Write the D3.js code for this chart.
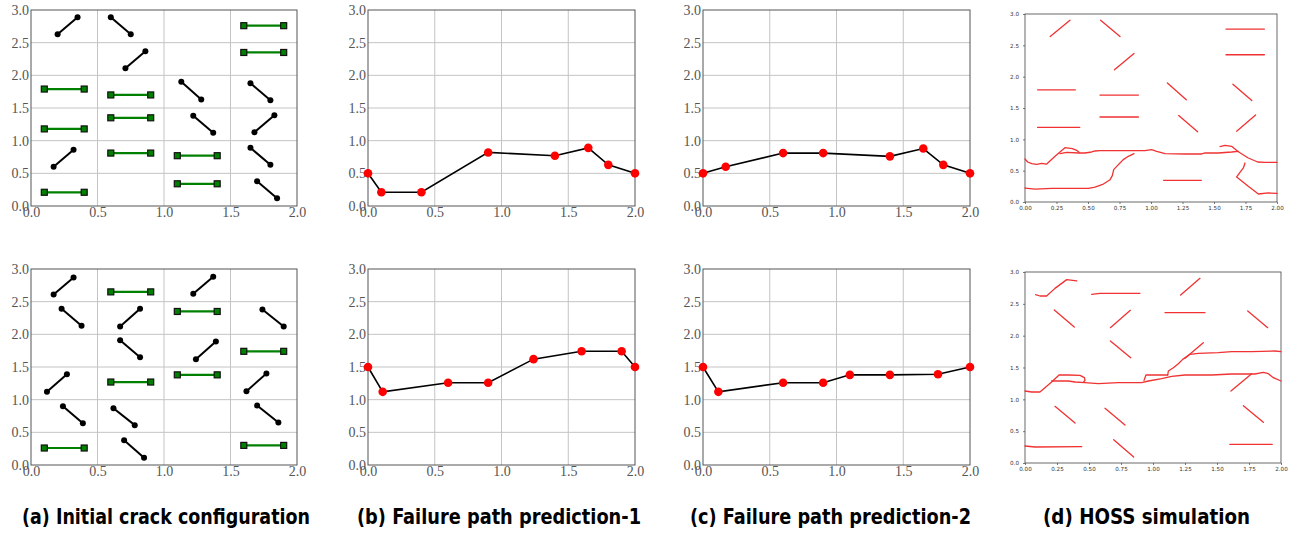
<!DOCTYPE html>
<html><head><meta charset="utf-8">
<script src="https://cdn.jsdelivr.net/npm/d3@7"></script>
<style>body{margin:0;background:#fff}svg{display:block}</style>
</head><body>
<svg id="fig" width="1302" height="534"></svg>
<script>
// ---------- DATA ----------
const axisTicksY = [0, 0.5, 1.0, 1.5, 2.0, 2.5, 3.0];
const axisTicksX = [0, 0.5, 1.0, 1.5, 2.0];
const hossTicksX = [0, 0.25, 0.5, 0.75, 1.0, 1.25, 1.5, 1.75, 2.0];

// (a) initial cracks, case 1 — [x1,y1,x2,y2]
const blackCracks1 = [
  [0.20,2.63,0.35,2.89],[0.60,2.89,0.75,2.63],[0.71,2.11,0.86,2.37],
  [0.17,0.60,0.32,0.86],[1.13,1.90,1.28,1.63],[1.22,1.38,1.37,1.12],
  [1.65,1.88,1.80,1.62],[1.68,1.13,1.83,1.39],[1.65,0.89,1.80,0.63],
  [1.70,0.38,1.85,0.12]
];
const greenCracks1 = [
  [0.1,1.79,0.4,1.79],[0.1,1.18,0.4,1.18],[0.1,0.21,0.4,0.21],
  [0.6,1.70,0.9,1.70],[0.6,1.35,0.9,1.35],[0.6,0.81,0.9,0.81],
  [1.1,0.77,1.4,0.77],[1.1,0.34,1.4,0.34],[1.6,2.76,1.9,2.76],[1.6,2.35,1.9,2.35]
];
// (a) initial cracks, case 2
const blackCracks2 = [
  [0.17,2.61,0.32,2.87],[1.22,2.62,1.37,2.88],[0.23,2.39,0.38,2.13],
  [0.67,2.12,0.82,2.39],[1.74,2.38,1.90,2.12],[0.67,1.91,0.82,1.65],
  [1.24,1.62,1.39,1.89],[0.12,1.12,0.27,1.39],[1.62,1.13,1.77,1.40],
  [0.24,0.90,0.39,0.64],[0.62,0.87,0.78,0.61],[0.70,0.38,0.85,0.11],
  [1.70,0.91,1.86,0.65]
];
const greenCracks2 = [
  [0.6,2.65,0.9,2.65],[1.1,2.35,1.4,2.35],[1.6,1.74,1.9,1.74],
  [0.6,1.27,0.9,1.27],[1.1,1.38,1.4,1.38],[0.1,0.26,0.4,0.26],[1.6,0.30,1.9,0.30]
];

// (b) prediction-1
const pred1TopX = [0, 0.1, 0.4, 0.9, 1.4, 1.65, 1.8, 2.0];
const pred1TopY = [0.5, 0.21, 0.21, 0.82, 0.77, 0.89, 0.63, 0.5];
const pred1BotX = [0, 0.11, 0.6, 0.9, 1.24, 1.6, 1.9, 2.0];
const pred1BotY = [1.5, 1.12, 1.26, 1.26, 1.62, 1.74, 1.74, 1.5];
// (c) prediction-2
const pred2TopX = [0, 0.17, 0.6, 0.9, 1.4, 1.65, 1.8, 2.0];
const pred2TopY = [0.5, 0.6, 0.81, 0.81, 0.76, 0.88, 0.63, 0.5];
const pred2BotX = [0, 0.115, 0.6, 0.9, 1.1, 1.4, 1.76, 2.0];
const pred2BotY = [1.5, 1.12, 1.26, 1.26, 1.38, 1.38, 1.39, 1.5];

// (d) HOSS traced crack/fracture polylines
const hossTopPaths = [
  [[0.20,2.64],[0.357,2.90]],[[0.60,2.90],[0.754,2.64]],[[0.71,2.11],[0.865,2.37]],
  [[0.10,1.79],[0.40,1.79]],[[0.10,1.19],[0.434,1.19]],
  [[0.595,1.707],[0.90,1.707]],[[0.595,1.356],[0.90,1.356]],
  [[1.13,1.90],[1.28,1.63]],[[1.22,1.38],[1.37,1.12]],
  [[1.595,2.76],[1.90,2.76]],[[1.595,2.35],[1.90,2.35]],
  [[1.65,1.88],[1.80,1.62]],[[1.68,1.13],[1.83,1.39]],
  [[1.10,0.346],[1.40,0.346]],
  [[0,0.686],[0.021,0.638],[0.053,0.612],[0.093,0.601],[0.132,0.617],[0.172,0.606],[0.243,0.739],[0.317,0.867],[0.376,0.851],[0.41,0.824],[0.429,0.793]],
  [[0.278,0.771],[0.331,0.793],[0.429,0.782],[0.476,0.782],[0.529,0.798],[0.556,0.814],[0.595,0.819],[0.741,0.819],[0.952,0.819],[1.005,0.835],[1.045,0.809],[1.111,0.771],[1.27,0.766],[1.402,0.766],[1.429,0.782],[1.534,0.782],[1.640,0.798],[1.693,0.809]],
  [[1.548,0.883],[1.587,0.904],[1.640,0.888],[1.693,0.803],[1.772,0.702],[1.847,0.638],[1.905,0.633],[2.0,0.633]],
  [[0,0.223],[0.079,0.207],[0.212,0.218],[0.423,0.218],[0.503,0.218],[0.556,0.239],[0.622,0.287],[0.675,0.356],[0.693,0.420],[0.704,0.516],[0.728,0.569],[0.754,0.622],[0.780,0.676],[0.820,0.729],[0.865,0.771]],
  [[1.746,0.622],[1.733,0.543],[1.706,0.473],[1.680,0.399],[1.772,0.250],[1.852,0.128],[1.931,0.144],[2.0,0.138]]
];
const hossBotPaths = [
  [[1.216,2.639],[1.367,2.90]],[[0.229,2.403],[0.385,2.136]],[[0.667,2.126],[0.823,2.398]],
  [[1.094,2.361],[1.406,2.361]],[[1.74,2.387],[1.896,2.126]],[[0.667,1.916],[0.826,1.654]],
  [[0.234,0.89],[0.391,0.628]],[[0.625,0.859],[0.781,0.597]],[[0.693,0.366],[0.849,0.094]],
  [[1.706,0.90],[1.862,0.639]],[[1.609,1.131],[1.771,1.403]],[[1.60,0.293],[1.932,0.293]],
  [[0,0.267],[0.078,0.251],[0.443,0.257]],
  [[0.083,2.644],[0.117,2.623],[0.169,2.623],[0.234,2.743],[0.326,2.88],[0.404,2.859]],
  [[0.521,2.649],[0.586,2.665],[0.898,2.665]],
  [[1.25,1.644],[1.393,1.89]],
  [[1.115,1.382],[1.12,1.445],[1.159,1.497],[1.198,1.560],[1.232,1.628],[1.289,1.707],[1.354,1.723],[1.51,1.733],[1.615,1.749],[1.771,1.749],[1.953,1.759],[2.0,1.749]],
  [[0,1.131],[0.052,1.115],[0.117,1.115],[0.208,1.272],[0.266,1.382],[0.339,1.382],[0.43,1.377],[0.464,1.34],[0.469,1.298],[0.458,1.272]],
  [[0.208,1.288],[0.339,1.288],[0.391,1.272],[0.469,1.262],[0.573,1.246],[0.729,1.262],[0.911,1.262],[0.964,1.288],[1.068,1.325],[1.146,1.361],[1.25,1.382],[1.458,1.382],[1.615,1.398],[1.797,1.398],[1.862,1.424],[1.901,1.403],[1.94,1.34],[2.0,1.288]],
  [[0.93,1.298],[0.945,1.382],[1.068,1.382],[1.115,1.382]]
];

const titles = ["(a) Initial crack configuration","(b) Failure path prediction-1","(c) Failure path prediction-2","(d) HOSS simulation"];

// ---------- DRAWING ----------
const svg = d3.select("#fig");
const serif = "'Liberation Serif','DejaVu Serif',serif";

function texPanel(L, R, T, B) {
  const x = d3.scaleLinear().domain([0, 2]).range([L, R]);
  const y = d3.scaleLinear().domain([0, 3]).range([B, T]);
  const g = svg.append("g");
  // grid
  g.selectAll(".gx").data(axisTicksX.slice(1, -1)).join("line")
    .attr("x1", d => x(d)).attr("x2", d => x(d)).attr("y1", T).attr("y2", B)
    .attr("stroke", "#c4c4c4").attr("stroke-width", 1);
  g.selectAll(".gy").data(axisTicksY.slice(1, -1)).join("line")
    .attr("y1", d => y(d)).attr("y2", d => y(d)).attr("x1", L).attr("x2", R)
    .attr("stroke", "#c4c4c4").attr("stroke-width", 1);
  g.append("rect").attr("x", L).attr("y", T).attr("width", R - L).attr("height", B - T)
    .attr("fill", "none").attr("stroke", "#555").attr("stroke-width", 1);
  // axes (no tick lines)
  const ay = g.append("g").attr("transform", `translate(${L},0)`)
    .call(d3.axisLeft(y).tickValues(axisTicksY).tickFormat(d3.format(".1f")).tickSize(0).tickPadding(2));
  const ax = g.append("g").attr("transform", `translate(0,${B})`)
    .call(d3.axisBottom(x).tickValues(axisTicksX).tickFormat(d3.format(".1f")).tickSize(0).tickPadding(1));
  [ax, ay].forEach(a => {
    a.select(".domain").remove();
    a.selectAll("text").attr("font-family", serif).attr("font-size", 14).attr("fill", "#555");
  });
  ax.selectAll("text").attr("dy", "0.72em");
  return { g, x, y };
}

function cracks(p, black, green) {
  const { g, x, y } = p;
  g.selectAll(null).data(green).join("line")
    .attr("x1", d => x(d[0])).attr("y1", d => y(d[1])).attr("x2", d => x(d[2])).attr("y2", d => y(d[3]))
    .attr("stroke", "#008000").attr("stroke-width", 2.2);
  green.forEach(d => {
    [[d[0], d[1]], [d[2], d[3]]].forEach(e => {
      g.append("rect").attr("x", x(e[0]) - 3).attr("y", y(e[1]) - 3).attr("width", 6).attr("height", 6)
        .attr("fill", "#008000").attr("stroke", "#111").attr("stroke-width", 1.2);
    });
  });
  g.selectAll(null).data(black).join("line")
    .attr("x1", d => x(d[0])).attr("y1", d => y(d[1])).attr("x2", d => x(d[2])).attr("y2", d => y(d[3]))
    .attr("stroke", "#000").attr("stroke-width", 2);
  black.forEach(d => {
    [[d[0], d[1]], [d[2], d[3]]].forEach(e => {
      g.append("circle").attr("cx", x(e[0])).attr("cy", y(e[1])).attr("r", 3).attr("fill", "#000");
    });
  });
}

function path(p, xs, ys) {
  const { g, x, y } = p;
  const pts = xs.map((v, i) => [v, ys[i]]);
  g.append("path").datum(pts)
    .attr("d", d3.line().x(d => x(d[0])).y(d => y(d[1])))
    .attr("fill", "none").attr("stroke", "#000").attr("stroke-width", 1.6);
  g.selectAll(null).data(pts).join("circle")
    .attr("cx", d => x(d[0])).attr("cy", d => y(d[1])).attr("r", 4.3).attr("fill", "#ff0000");
}

function hossPanel(L, R, T, B, paths) {
  const x = d3.scaleLinear().domain([0, 2]).range([L, R]);
  const y = d3.scaleLinear().domain([0, 3]).range([B, T]);
  const g = svg.append("g");
  g.append("rect").attr("x", L).attr("y", T).attr("width", R - L).attr("height", B - T)
    .attr("fill", "none").attr("stroke", "#444").attr("stroke-width", 0.8);
  const ay = g.append("g").attr("transform", `translate(${L},0)`)
    .call(d3.axisLeft(y).tickValues(axisTicksY).tickFormat(d3.format(".1f")).tickSize(2).tickPadding(4));
  const ax = g.append("g").attr("transform", `translate(0,${B})`)
    .call(d3.axisBottom(x).tickValues(hossTicksX).tickFormat(d3.format(".2f")).tickSize(2).tickPadding(2));
  [ax, ay].forEach(a => {
    a.select(".domain").remove();
    a.selectAll("line").attr("stroke", "#444").attr("stroke-width", 0.7);
    a.selectAll("text").attr("font-family", "'DejaVu Sans',sans-serif").attr("font-size", 5.6).attr("fill", "#333");
  });
  const line = d3.line().x(d => x(d[0])).y(d => y(d[1])).curve(d3.curveLinear);
  g.selectAll(null).data(paths).join("path")
    .attr("d", line).attr("fill", "none").attr("stroke", "#f03232")
    .attr("stroke-width", 1.3).attr("stroke-linejoin", "round").attr("stroke-linecap", "round");
}

// (a)
cracks(texPanel(31, 297, 10, 206), blackCracks1, greenCracks1);
cracks(texPanel(31, 297, 269, 465), blackCracks2, greenCracks2);
// (b)
path(texPanel(368, 635, 10, 206), pred1TopX, pred1TopY);
path(texPanel(368, 635, 269, 465), pred1BotX, pred1BotY);
// (c)
path(texPanel(703, 970, 10, 206), pred2TopX, pred2TopY);
path(texPanel(703, 970, 269, 465), pred2BotX, pred2BotY);
// (d)
hossPanel(1025, 1277, 14, 202, hossTopPaths);
hossPanel(1025, 1281, 272, 463, hossBotPaths);

// titles
const titleX = [[22, 310], [357, 641], [690, 971], [1043, 1250]];
svg.selectAll(".title").data(titles).join("text")
  .attr("x", (d, i) => titleX[i][0]).attr("y", 524)
  .attr("textLength", (d, i) => titleX[i][1] - titleX[i][0])
  .attr("lengthAdjust", "spacingAndGlyphs")
  .attr("font-family", "'Liberation Sans Narrow','DejaVu Sans Condensed','Open Sans',sans-serif")
  .attr("font-weight", "bold").attr("font-size", 21).attr("fill", "#000")
  .text(d => d);
</script>
</body></html>
